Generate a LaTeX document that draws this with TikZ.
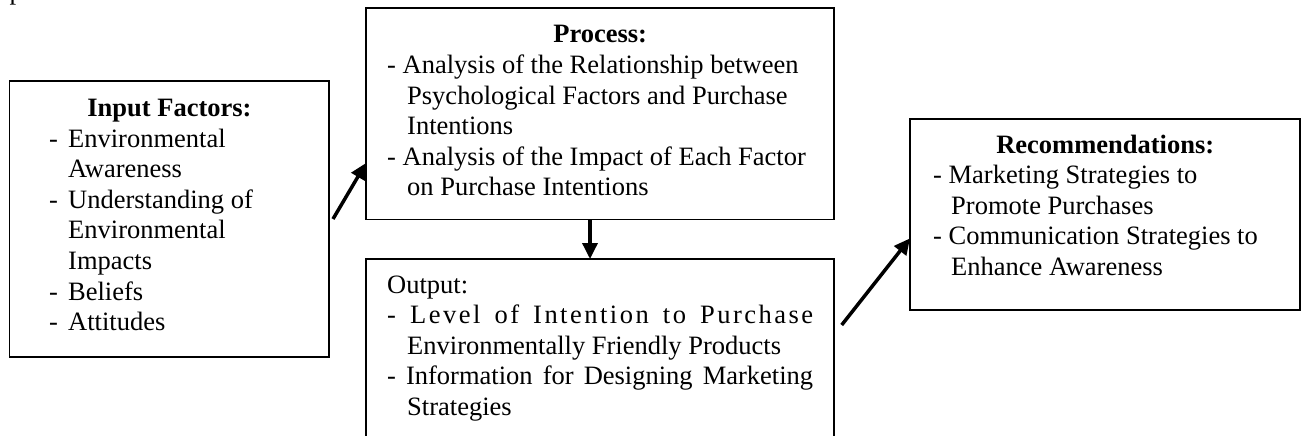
\documentclass[tikz,border=0pt]{standalone}
\usepackage{fontspec}
\setmainfont{Liberation Serif}
\usetikzlibrary{arrows.meta,calc}
\newcommand{\Lsp}{\hskip 0pt plus 1fil\relax}
\newcommand{\Wsp}{\hskip 0.25em plus 3fil\relax}
\newcommand{\DashItem}[3]{\hspace*{#1}\makebox[#2][l]{-}#3}
\newcommand{\ContLine}[2]{\hspace*{#1}#2}
\tikzset{
  box/.style={draw, line width=1.8pt, inner sep=0pt, outer sep=0pt, anchor=north west},
  txt/.style={inner sep=0pt, anchor=base west, font=\fontsize{26.5}{30.6}\selectfont},
  arr/.style={line width=3.5pt, -{Triangle[length=16pt,width=15pt]}}
}
\begin{document}
\begin{tikzpicture}[x=1pt,y=-1pt]
\useasboundingbox (0,0) rectangle (1304,436);
% page fragment
\node[txt] (frag) at (9.5,-0.7) {p};
% boxes
\node[box, minimum width=319.5pt, minimum height=276pt] (input) at (9.5,81) {};
\node[box, minimum width=468pt, minimum height=211.5pt] (process) at (366,8) {};
\node[box, minimum width=468pt, minimum height=220pt] (output) at (366,259) {};
\node[box, minimum width=390pt, minimum height=191pt] (rec) at (910,119) {};
% texts
\node[txt] (inputtxt) at (9.5,116.5) {\parbox[t]{319.5pt}{%
\makebox[\linewidth]{\bfseries Input Factors:}\\
\DashItem{39.5pt}{19pt}{Environmental}\\
\ContLine{58.5pt}{Awareness}\\
\DashItem{39.5pt}{19pt}{Understanding of}\\
\ContLine{58.5pt}{Environmental}\\
\ContLine{58.5pt}{Impacts}\\
\DashItem{39.5pt}{19pt}{Beliefs}\\
\DashItem{39.5pt}{19pt}{Attitudes}}};
\node[txt] (processtxt) at (366,43) {\parbox[t]{468pt}{%
\makebox[\linewidth]{\bfseries Process:}\\
\ContLine{21pt}{- Analysis of the Relationship between}\\
\ContLine{41pt}{Psychological Factors and Purchase}\\
\ContLine{41pt}{Intentions}\\
\ContLine{21pt}{- Analysis of the Impact of Each Factor}\\
\ContLine{41pt}{on Purchase Intentions}}};
\node[txt] (outputtxt) at (366,293) {\parbox[t]{468pt}{%
\ContLine{21pt}{Output:}\\
\ContLine{21pt}{\hbox to 426pt{-\Wsp L\Lsp e\Lsp v\Lsp e\Lsp l\Wsp o\Lsp f\Wsp I\Lsp n\Lsp t\Lsp e\Lsp n\Lsp t\Lsp i\Lsp o\Lsp n\Wsp t\Lsp o\Wsp P\Lsp u\Lsp r\Lsp c\Lsp h\Lsp a\Lsp s\Lsp e}}\\
\ContLine{41pt}{Environmentally Friendly Products}\\
\ContLine{21pt}{\makebox[426pt][s]{- Information for Designing Marketing}}\\
\ContLine{41pt}{Strategies}}};
\node[txt] (rectxt) at (910,153) {\parbox[t]{390pt}{%
\makebox[\linewidth]{\bfseries Recommendations:}\\
\ContLine{23pt}{- Marketing Strategies to}\\
\ContLine{41pt}{Promote Purchases}\\
\ContLine{23pt}{- Communication Strategies to}\\
\ContLine{41pt}{Enhance Awareness}}};
% connectors
\coordinate (a1s) at (333,219);
\coordinate (a2s) at (841.7,325);
\coordinate (dx) at (590,0);
\draw[arr] (a1s) -- ($(process.south west)!0.267!(process.north west)$);
\draw[arr] (process.south -| dx) -- (output.north -| dx);
\draw[arr] (a2s) -- ($(rec.south west)!0.375!(rec.north west)$);
\end{tikzpicture}
\end{document}
